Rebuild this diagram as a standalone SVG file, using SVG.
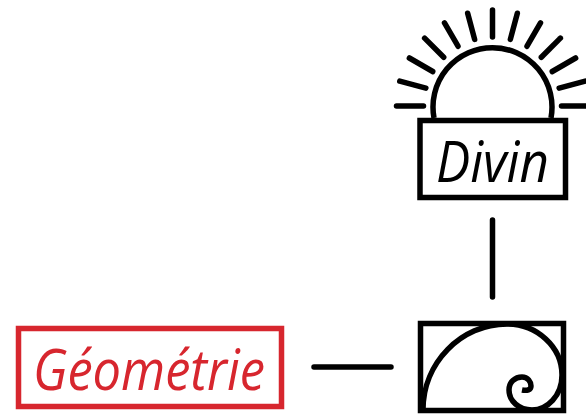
<svg xmlns="http://www.w3.org/2000/svg" width="586" height="416" viewBox="0 0 586 416">
<style>
.b{fill:none;stroke:#000;stroke-width:5.500}
.r{fill:none;stroke:#000;stroke-width:5.500;stroke-linecap:round}
.t{font-family:"Open Sans","Noto Sans",sans-serif;font-style:italic;font-weight:500;font-size:57px}
</style>
<rect width="586" height="416" fill="#fff"/>
<g id="connectors"><path class="r" d="M492.500 220V297M314 367H391"/></g>
<g id="divin">
<path class="b" d="M434 118A59.500 59.500 0 1 1 551 118"/>
<g id="rays" transform="translate(492.500,106)">
<path class="r" d="M-69 0H-96"/>
<path class="r" d="M-69 0H-96" transform="rotate(15)"/><path class="r" d="M-69 0H-96" transform="rotate(30)"/><path class="r" d="M-69 0H-96" transform="rotate(45)"/><path class="r" d="M-69 0H-96" transform="rotate(60)"/><path class="r" d="M-69 0H-96" transform="rotate(75)"/><path class="r" d="M-69 0H-96" transform="rotate(90)"/><path class="r" d="M-69 0H-96" transform="rotate(105)"/><path class="r" d="M-69 0H-96" transform="rotate(120)"/><path class="r" d="M-69 0H-96" transform="rotate(135)"/><path class="r" d="M-69 0H-96" transform="rotate(150)"/><path class="r" d="M-69 0H-96" transform="rotate(165)"/><path class="r" d="M-69 0H-96" transform="rotate(180)"/>
</g>
<rect class="b" x="420" y="120.500" width="145.500" height="77"/>
<text class="t" x="436" y="182" textLength="113" lengthAdjust="spacingAndGlyphs">Divin</text>
</g>
<g id="geometrie">
<rect x="18.500" y="328.500" width="263" height="78" style="fill:none;stroke:#d7262e;stroke-width:5.500"/>
<text class="t" x="33" y="390" textLength="232" lengthAdjust="spacingAndGlyphs" fill="#d7262e">Géométrie</text>
</g>
<g id="spirale">
<rect class="b" x="420.500" y="323.500" width="143" height="87"/>
<path class="b" d="M423 410C423 363 461 324 507 324C537 324 562 347 562 375C562 396 547 410 532 410C519 410 509 401 509 390C509 382 515 377 522 377C528 377 531 382 531 386C531 390 527 391 522 390"/>
</g>
</svg>
